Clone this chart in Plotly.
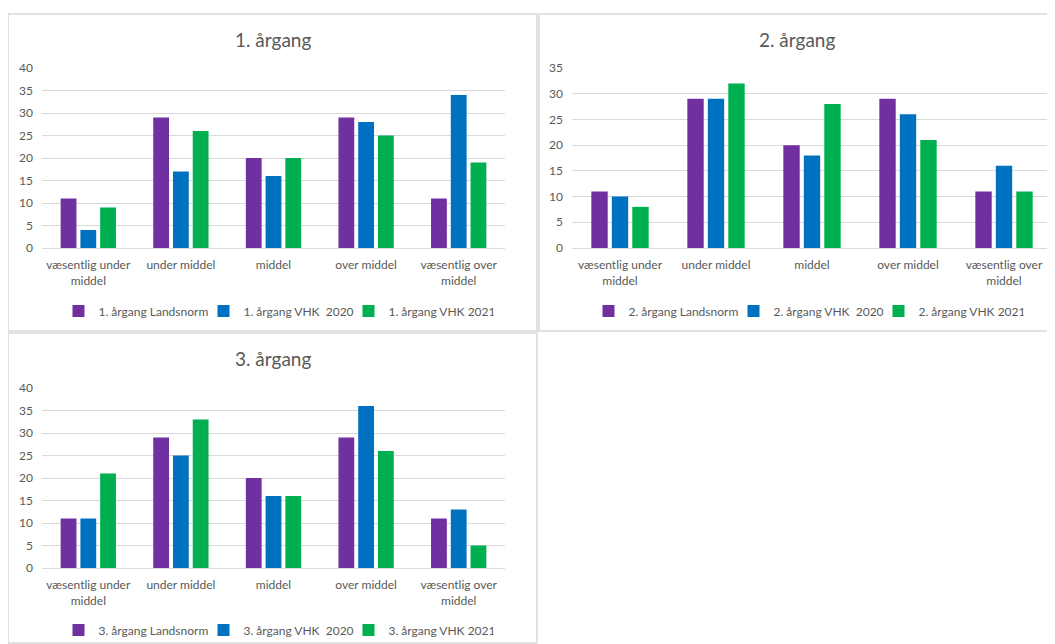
import plotly.graph_objects as go

categories = ["væsentlig under<br>middel", "under middel", "middel", "over middel", "væsentlig over<br>middel"]
series_suffix = ["Landsnorm", "VHK\u00a0\u00a02020", "VHK 2021"]
colors = ["#7030A0", "#0070C0", "#00B050"]

a1_landsnorm = [11, 29, 20, 29, 11]
a1_vhk2020 = [4, 17, 16, 28, 34]
a1_vhk2021 = [9, 26, 20, 25, 19]

a2_landsnorm = [11, 29, 20, 29, 11]
a2_vhk2020 = [10, 29, 18, 26, 16]
a2_vhk2021 = [8, 32, 28, 21, 11]

a3_landsnorm = [11, 29, 20, 29, 11]
a3_vhk2020 = [11, 25, 16, 36, 13]
a3_vhk2021 = [21, 33, 16, 26, 5]

panels = [
    ("1. årgang", [a1_landsnorm, a1_vhk2020, a1_vhk2021], 40),
    ("2. årgang", [a2_landsnorm, a2_vhk2020, a2_vhk2021], 35),
    ("3. årgang", [a3_landsnorm, a3_vhk2020, a3_vhk2021], 40),
]

# page has an 8px body margin: shift everything by it
OFF = 8
W, H = 1055 - OFF, 644 - OFF
def px(x): return (x - OFF) / W
def py(y): return (H - (y - OFF)) / H

# plot-area pixel rectangles in screenshot coords (left, right, top, bottom)
plot_rects = [(42, 505, 68, 248), (572, 1052, 68, 248), (42, 505, 388, 568)]
box_rects = [(8, 537, 14, 331), (539, 1054, 14, 331), (8, 537, 333, 643)]
legend_pos = [(276, 311), (806, 311), (276, 630)]
title_pos = [(273, 40), (797, 40), (273, 358)]

font_family = "Lato, Open Sans, sans-serif"
text_color = "#595959"
grid_color = "#D9D9D9"

fig = go.Figure()
layout = dict(
    width=W, height=H,
    margin=dict(l=0, r=0, t=0, b=0, autoexpand=False),
    paper_bgcolor="white", plot_bgcolor="white",
    barmode="group", bargap=0.36, bargroupgap=0.2,
    font=dict(family=font_family, color=text_color, size=12),
    shapes=[], annotations=[],
)

for i, (title, vals, ymax) in enumerate(panels):
    n = "" if i == 0 else str(i + 1)
    leg = "legend" if i == 0 else f"legend{i + 1}"
    for j, v in enumerate(vals):
        fig.add_trace(go.Bar(
            x=categories, y=v, name=f"{title} {series_suffix[j]}",
            marker=dict(color=colors[j], line=dict(width=0)),
            xaxis="x" + n, yaxis="y" + n, legend=leg,
        ))
    l, r, t, b = plot_rects[i]
    layout["xaxis" + n] = dict(
        domain=[px(l), px(r)], anchor="y" + n,
        showgrid=False, showline=True, linecolor=grid_color, linewidth=1,
        ticks="", ticklabelstandoff=6,
        tickfont=dict(size=12, color=text_color), fixedrange=True,
    )
    layout["yaxis" + n] = dict(
        domain=[py(b), py(t)], anchor="x" + n, range=[0, ymax], dtick=5,
        showgrid=True, gridcolor=grid_color, gridwidth=1, zeroline=False,
        showline=False, ticks="", ticklabelstandoff=8,
        tickfont=dict(size=12, color=text_color), fixedrange=True,
    )
    lx, ly = legend_pos[i]
    layout[leg] = dict(
        orientation="h", x=px(lx), y=py(ly), xanchor="center", yanchor="middle",
        font=dict(size=12, color=text_color), bgcolor="rgba(0,0,0,0)",
        entrywidth=100, entrywidthmode="pixels", itemwidth=30,
    )
    tx, ty = title_pos[i]
    layout["annotations"].append(dict(
        text=title, x=px(tx), y=py(ty), xref="paper", yref="paper",
        showarrow=False, font=dict(size=19, color=text_color),
        xanchor="center", yanchor="middle",
    ))
    bx0, bx1, by0, by1 = box_rects[i]
    layout["shapes"].append(dict(
        type="rect", xref="paper", yref="paper",
        x0=px(bx0), x1=px(bx1), y0=py(by1), y1=py(by0),
        line=dict(color="#D9D9D9", width=1.5), fillcolor="rgba(0,0,0,0)",
        layer="below",
    ))

fig.update_layout(**layout)
fig.write_html("out.html")
